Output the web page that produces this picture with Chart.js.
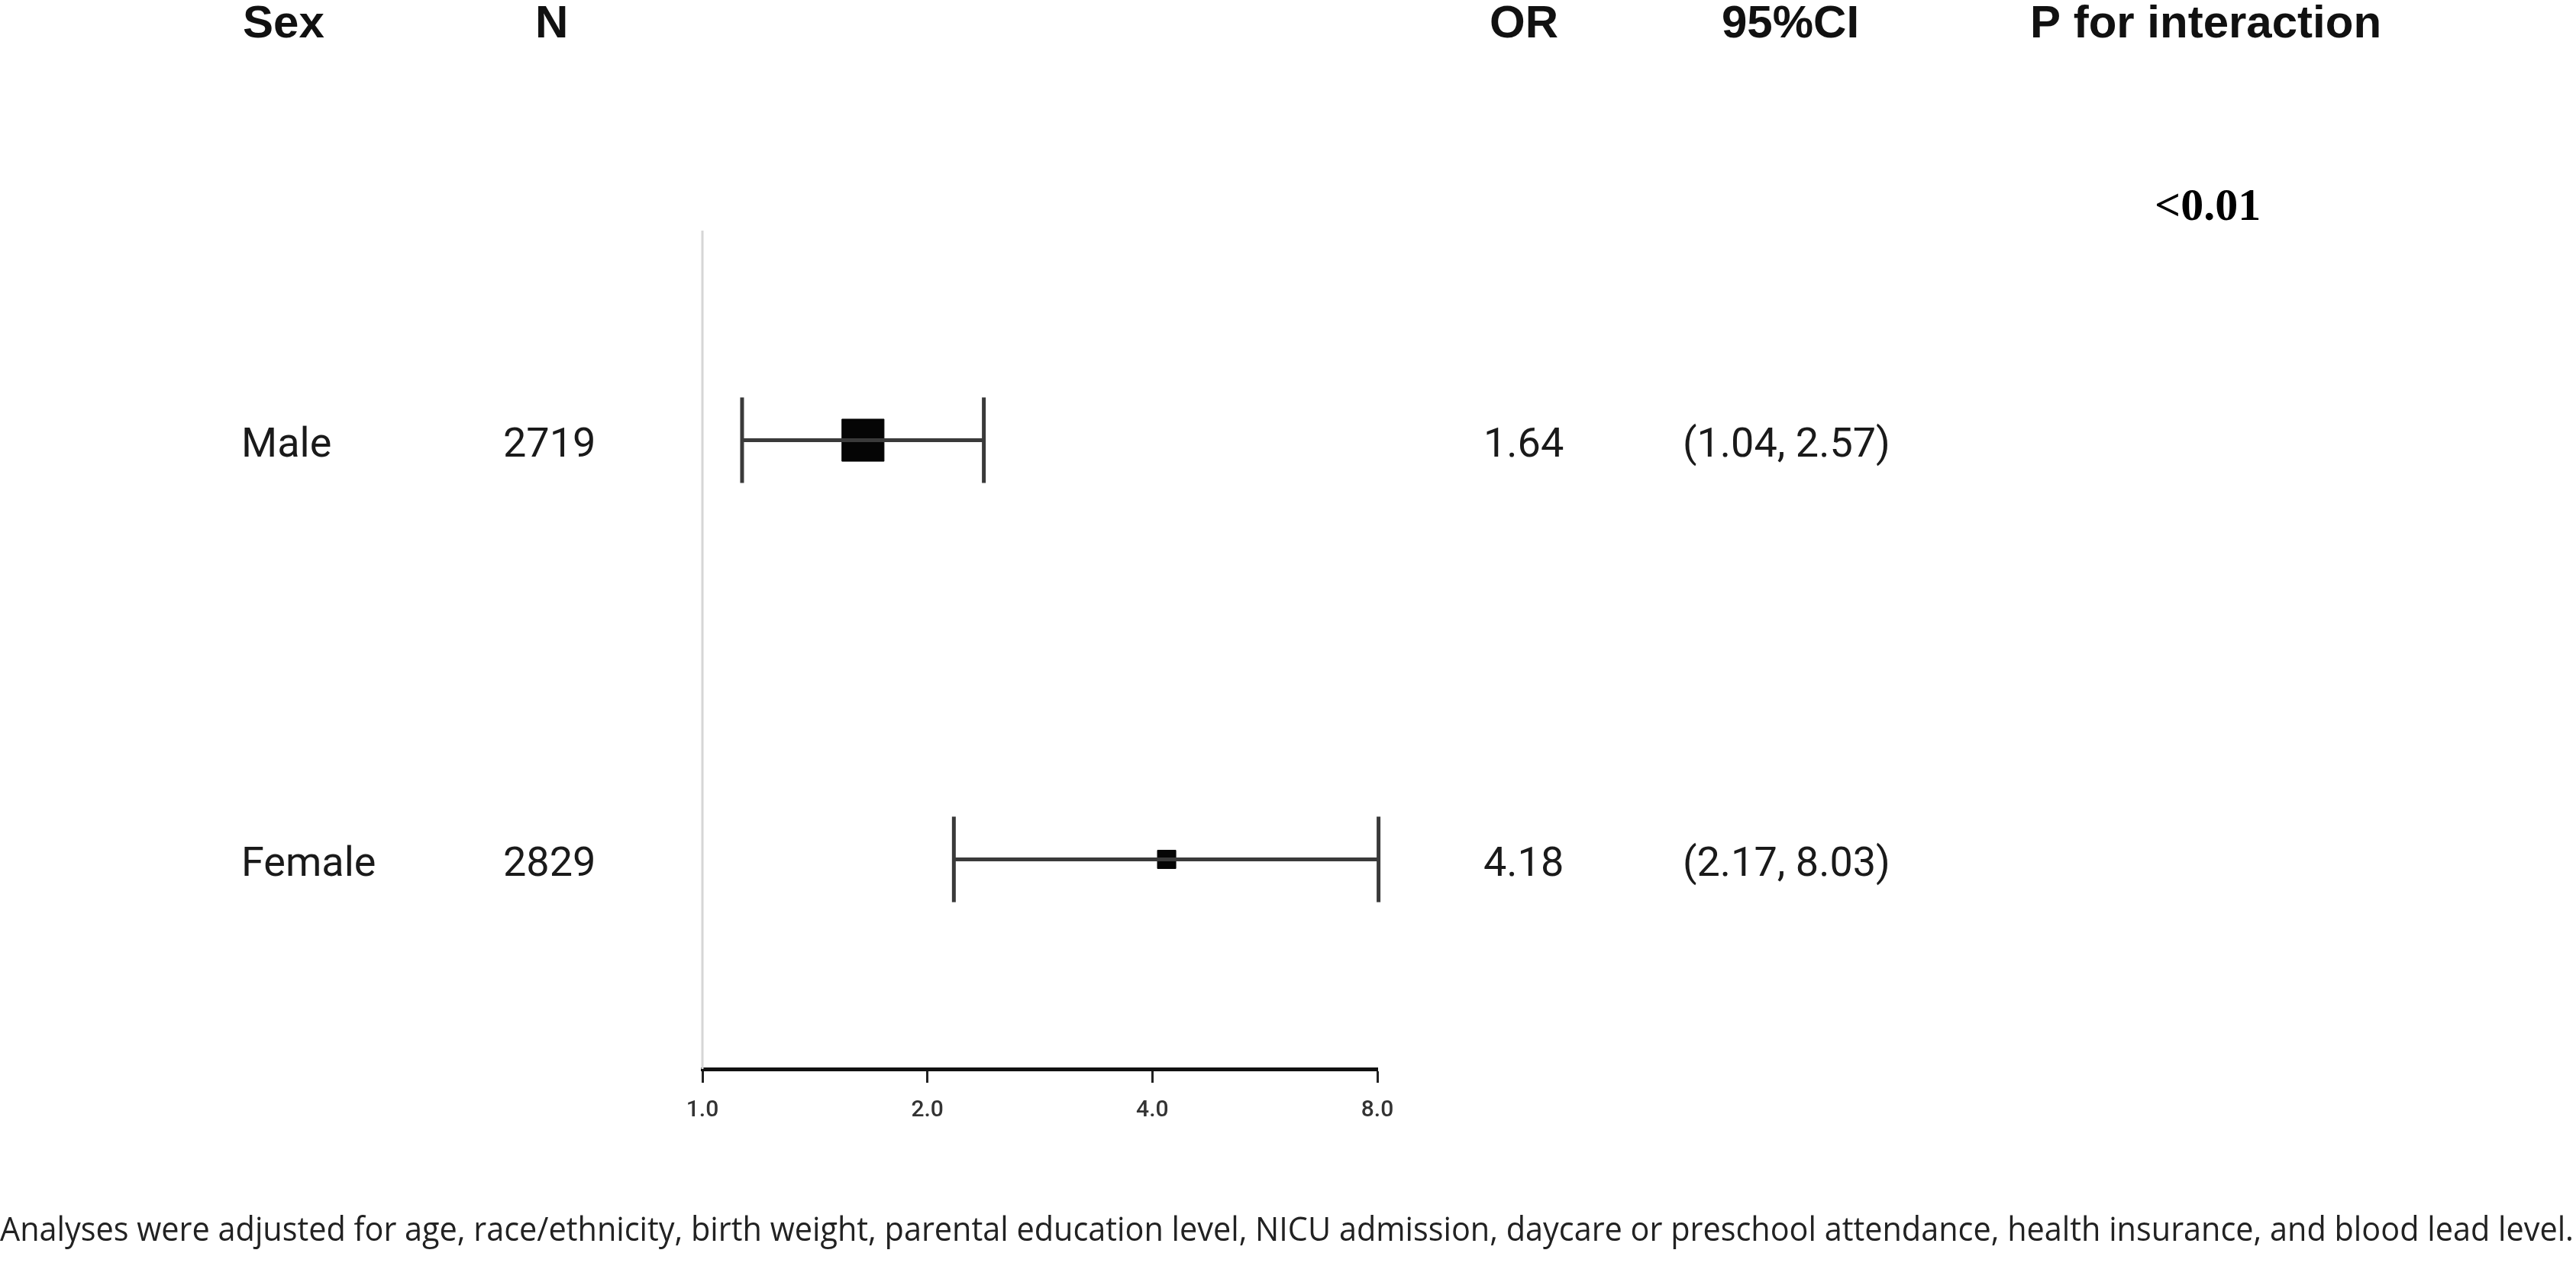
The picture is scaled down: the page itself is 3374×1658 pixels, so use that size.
<!DOCTYPE html>
<html>
<head>
<meta charset="utf-8">
<script src="https://cdn.jsdelivr.net/npm/chart.js@4.4.1/dist/chart.umd.min.js"></script>
<style>
  html, body { margin: 0; padding: 0; background: #fff; }
  #wrap { width: 3374px; height: 1658px; position: relative; }
</style>
</head>
<body>
<div id="wrap"><canvas id="forest" width="3374" height="1658"></canvas></div>
<script>
// Data
const groups = ['Male', 'Female'];
const counts = ['2719', '2829'];
const oddsRatio = [1.64, 4.18];
// whisker ends as drawn in the figure
const ciLow = [1.13, 2.17];
const ciHigh = [2.38, 8.03];
const orLabels = ['1.64', '4.18'];
const ciLabels = ['(1.04, 2.57)', '(2.17, 8.03)'];
const pInteraction = '<0.01';
const xTicks = [1, 2, 4, 8];
const headers = ['Sex', 'N', 'OR', '95%CI', 'P for interaction'];
const footnote = 'Analyses were adjusted for age, race/ethnicity, birth weight, parental education level, NICU admission, daycare or preschool attendance, health insurance, and blood lead level.';

// styles
const boxRadius = [39, 17];
const capHalf = 0.102;
const lineCol = '#3a3a3a';

let datasets = [];

// reference line at OR = 1
datasets.push({
    data: [{ x: 1, y: 0.5 }, { x: 1, y: 2.5 }],
    showLine: true,
    borderColor: '#d6d6d6',
    borderWidth: 3,
    pointRadius: 0,
    clip: false
});

// confidence intervals and caps
for (let i = 0; i < groups.length; i++) {
    let row = i + 1;
    datasets.push({
        data: [{ x: ciLow[i], y: row }, { x: ciHigh[i], y: row }],
        showLine: true, borderColor: lineCol, borderWidth: 5, pointRadius: 0, clip: false
    });
    datasets.push({
        data: [{ x: ciLow[i], y: row - capHalf }, { x: ciLow[i], y: row + capHalf }],
        showLine: true, borderColor: lineCol, borderWidth: 5, pointRadius: 0, clip: false
    });
    datasets.push({
        data: [{ x: ciHigh[i], y: row - capHalf }, { x: ciHigh[i], y: row + capHalf }],
        showLine: true, borderColor: lineCol, borderWidth: 5, pointRadius: 0, clip: false
    });
}

// point estimates
datasets.push({
    data: oddsRatio.map((v, i) => ({ x: v, y: i + 1 })),
    showLine: false,
    pointStyle: 'rect',
    pointRadius: boxRadius,
    backgroundColor: '#050505',
    borderColor: '#050505',
    borderWidth: 1,
    clip: false
});

// texts around the plot
const textPlugin = {
    id: 'forestText',
    afterDraw(chart) {
        const ctx = chart.ctx;
        const yScale = chart.scales.y;
        ctx.save();
        ctx.fillStyle = '#111';
        ctx.textBaseline = 'alphabetic';
        ctx.textAlign = 'left';

        ctx.font = 'bold 60px "Liberation Sans", Arial, sans-serif';
        const headX = [318, 701, 1951, 2255, 2659];
        headers.forEach((h, i) => ctx.fillText(h, headX[i], 49));

        ctx.font = '54px Roboto, sans-serif';
        ctx.fillStyle = '#1a1a1a';
        for (let i = 0; i < groups.length; i++) {
            let y = yScale.getPixelForValue(i + 1) + 21;
            ctx.fillText(groups[i], 316, y);
            ctx.fillText(counts[i], 659, y);
            ctx.fillText(orLabels[i], 1943, y);
            ctx.fillText(ciLabels[i], 2204, y);
        }

        ctx.fillStyle = '#000';
        ctx.font = 'bold 60px "Liberation Serif", "Times New Roman", serif';
        ctx.fillText(pInteraction, 2822, 288);

        // footnote stretched over the full width
        ctx.font = '44px "Open Sans", sans-serif';
        ctx.fillStyle = '#222';
        let w = ctx.measureText(footnote).width;
        ctx.translate(0, 1625);
        ctx.scale(3371 / w, 1);
        ctx.fillText(footnote, 0, 0);
        ctx.restore();
    }
};

const ctx = document.getElementById('forest').getContext('2d');
const chart = new Chart(ctx, {
    type: 'scatter',
    data: { datasets: datasets },
    plugins: [textPlugin],
    options: {
        responsive: false,
        animation: false,
        devicePixelRatio: 1,
        layout: { padding: { left: 920, right: 1570, top: 302, bottom: 0 } },
        plugins: { legend: { display: false }, tooltip: { enabled: false } },
        scales: {
            x: {
                type: 'logarithmic',
                min: 1,
                max: 8,
                afterBuildTicks: (scale) => {
                    scale.ticks = xTicks.map(v => ({ value: v }));
                },
                afterFit: (scale) => { scale.height = 258; },
                ticks: {
                    callback: (v) => Number(v).toFixed(1),
                    color: '#333',
                    font: { family: 'Roboto', size: 30, weight: '500' },
                    padding: 18,
                    maxRotation: 0,
                    autoSkip: false
                },
                grid: {
                    drawOnChartArea: false,
                    drawTicks: true,
                    tickLength: 18,
                    tickWidth: 3,
                    tickColor: '#222'
                },
                border: { display: true, color: '#111', width: 5 }
            },
            y: {
                type: 'linear',
                min: 0.5,
                max: 2.5,
                reverse: true,
                display: false
            }
        }
    }
});
</script>
</body>
</html>
